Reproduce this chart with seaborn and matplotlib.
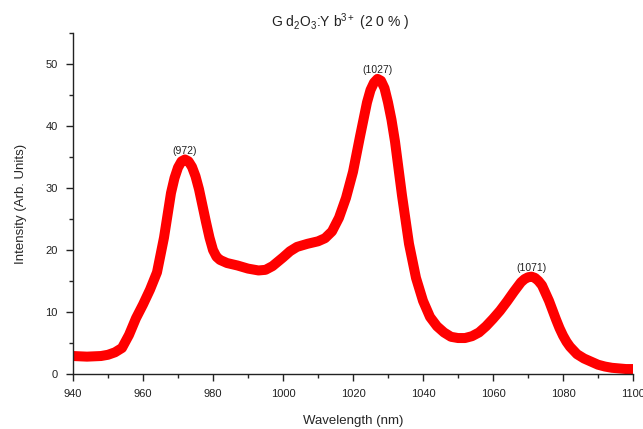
import numpy as np
import pandas as pd
import matplotlib
matplotlib.use("Agg")
import matplotlib.pyplot as plt
import seaborn as sns
from matplotlib.ticker import MultipleLocator

wavelength = [940, 944, 948, 950, 952, 954, 956, 958, 960, 962, 964, 966, 968, 969, 970,
              971, 972, 973, 974, 975, 976, 978, 979, 980, 981, 982, 984, 987, 990, 993,
              995, 997, 1000, 1002, 1004, 1007, 1010, 1012, 1014, 1016, 1018, 1020,
              1022, 1024, 1025, 1026, 1027, 1028, 1029, 1030, 1031, 1032, 1034, 1036,
              1038, 1040, 1042, 1044, 1046, 1048, 1050, 1052, 1054, 1056, 1058, 1060,
              1062, 1064, 1066, 1068, 1069, 1070, 1071, 1072, 1073, 1074, 1076, 1078,
              1079, 1080, 1081, 1082, 1084, 1086, 1088, 1090, 1092, 1094, 1096, 1098, 1100]
intensity = [2.9, 2.8, 2.9, 3.1, 3.5, 4.2, 6.3, 9.0, 11.2, 13.6, 16.4, 22.0, 29.2, 31.6, 33.3,
             34.3, 34.6, 34.3, 33.4, 31.9, 29.8, 24.5, 22.0, 20.0, 18.9, 18.4, 17.9, 17.5, 17.0, 16.7,
             16.8, 17.4, 18.8, 19.8, 20.5, 21.0, 21.4, 21.9, 23.0, 25.2, 28.4, 32.6,
             38.3, 43.8, 45.8, 47.0, 47.6, 47.3, 46.1, 43.8, 41.0, 37.5, 28.8, 21.0,
             15.5, 11.8, 9.2, 7.7, 6.7, 6.0, 5.8, 5.8, 6.1, 6.7, 7.7, 8.9,
             10.2, 11.7, 13.3, 14.8, 15.3, 15.6, 15.7, 15.5, 15.0, 14.3, 11.8, 8.8,
             7.4, 6.2, 5.2, 4.4, 3.2, 2.5, 2.0, 1.5, 1.2, 1.0, 0.9, 0.8, 0.8]

peak_labels = ["(972)", "(1027)", "(1071)"]
peak_x = [972, 1027, 1071]
peak_y = [34.6, 47.6, 15.7]

df = pd.DataFrame({"Wavelength": wavelength, "Intensity": intensity})

sns.set_style("ticks")
plt.rcParams['font.family'] = ['Liberation Sans', 'DejaVu Sans']
plt.rcParams['mathtext.fontset'] = 'custom'
plt.rcParams['mathtext.rm'] = 'Liberation Sans'
plt.rcParams['mathtext.it'] = 'Liberation Sans'

fig = plt.figure(figsize=(6.43, 4.29), dpi=100)
ax = fig.add_axes([73/643, 1-374/429, (633-73)/643, (374-33)/429])

sns.lineplot(data=df, x="Wavelength", y="Intensity", ax=ax, color="#ff0000",
             linewidth=7.2, solid_capstyle="butt", solid_joinstyle="round")

for lab, px, py in zip(peak_labels, peak_x, peak_y):
    ax.text(px, py + 0.6, lab, ha="center", va="bottom", fontsize=7.5, color="#222222")

ax.set_xlim(940, 1100)
ax.set_ylim(0, 55)
ax.xaxis.set_major_locator(MultipleLocator(20))
ax.xaxis.set_minor_locator(MultipleLocator(10))
ax.yaxis.set_major_locator(MultipleLocator(10))
ax.yaxis.set_minor_locator(MultipleLocator(5))
ax.tick_params(which="major", length=5, width=1, direction="out", labelsize=8, colors="#222222", pad=6)
ax.tick_params(which="minor", length=3, width=1, direction="out")
for s in ["top", "right"]:
    ax.spines[s].set_visible(False)
for s in ["left", "bottom"]:
    ax.spines[s].set_color("#222222")
    ax.spines[s].set_linewidth(1)

ax.set_xlabel("Wavelength (nm)", fontsize=9.5, labelpad=11)
ax.set_ylabel("Intensity (Arb. Units)", fontsize=9.5, labelpad=13)
fig.text(340/643, 1-22/429, r"G d$_2$O$_3$:Y b$^{3+}$ (2 0 % )", fontsize=10,
         ha="center", va="center", color="#222222")

fig.savefig("out.png", dpi=100)
